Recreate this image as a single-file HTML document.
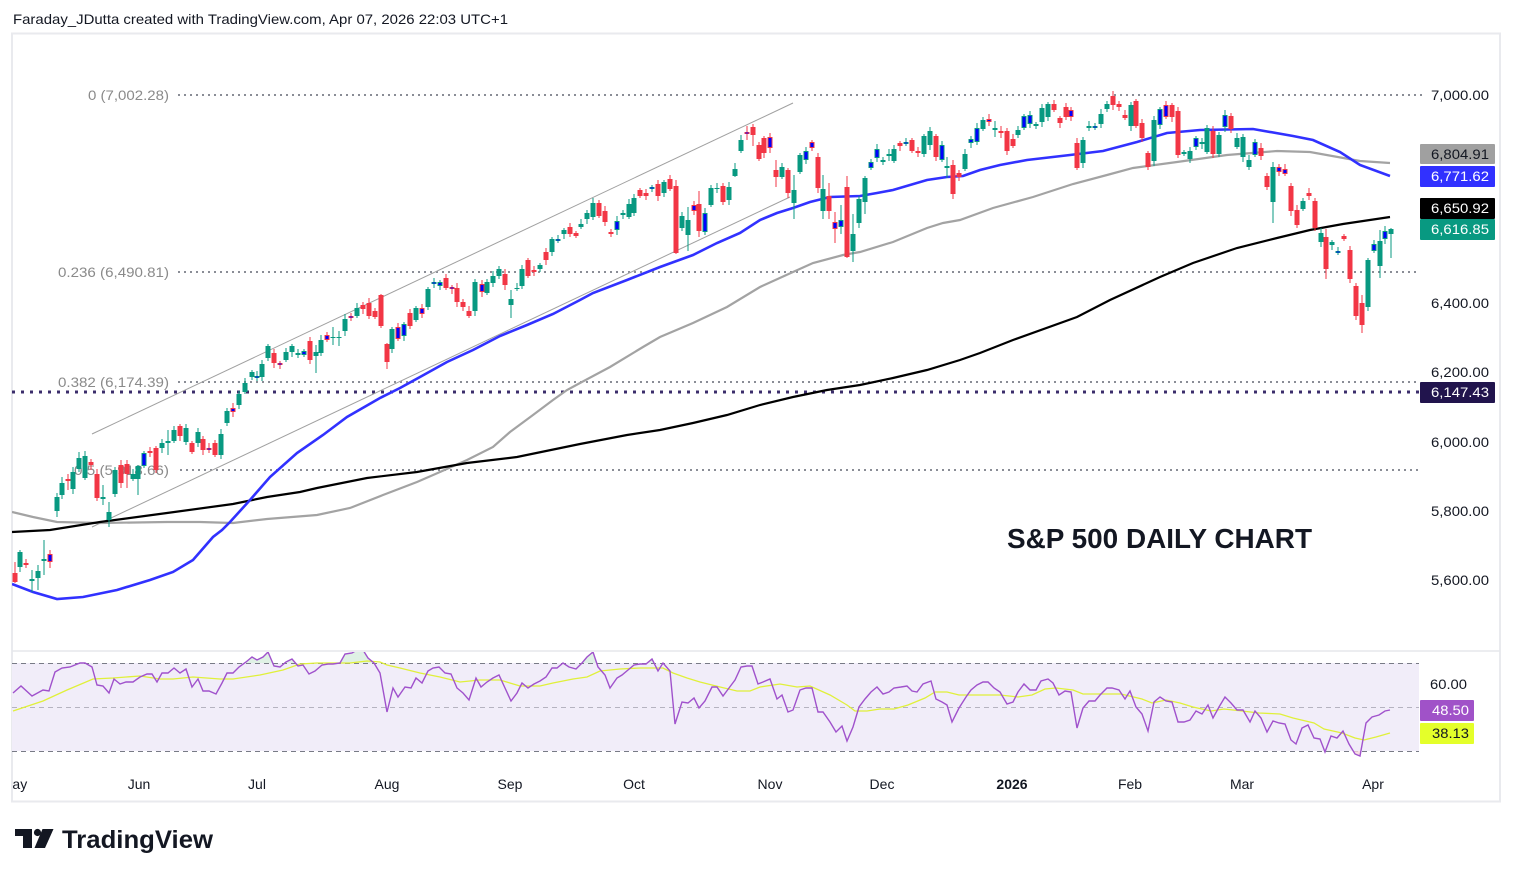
<!DOCTYPE html>
<html><head><meta charset="utf-8">
<style>
html,body{margin:0;padding:0;background:#fff;}
svg{display:block;}
text{font-family:"Liberation Sans",sans-serif;}
</style></head>
<body>
<svg id="s" xmlns="http://www.w3.org/2000/svg" width="1514" height="877" viewBox="0 0 1514 877">
<defs>
<clipPath id="pane"><rect x="12" y="33" width="1408" height="617"/></clipPath>
<clipPath id="rsip"><rect x="12" y="652" width="1408" height="110"/></clipPath>
<clipPath id="ob"><rect x="12" y="640" width="1408" height="23"/></clipPath>
<clipPath id="os"><rect x="12" y="751" width="1408" height="20"/></clipPath>
<clipPath id="tax"><rect x="12" y="765" width="1488" height="36"/></clipPath>
</defs>
<rect x="0" y="0" width="1514" height="877" fill="#fff"/>
<text x="13" y="24" font-size="14" fill="#131722" textLength="495" lengthAdjust="spacingAndGlyphs">Faraday_JDutta created with TradingView.com, Apr 07, 2026 22:03 UTC+1</text>
<!-- frame -->
<rect x="12" y="33.5" width="1488" height="768" fill="#fff" stroke="#e9eaee" stroke-width="2"/>
<line x1="12" y1="651" x2="1500" y2="651" stroke="#e6e7eb" stroke-width="1.5"/>

<!-- RSI pane -->
<g clip-path="url(#rsip)">
<rect x="12" y="663" width="1407" height="88" fill="#f1edf9"/>
<line x1="12" y1="663.5" x2="1419" y2="663.5" stroke="#787b86" stroke-dasharray="5,4" stroke-width="1"/>
<line x1="12" y1="707.5" x2="1419" y2="707.5" stroke="#b5b3c0" stroke-dasharray="5,4" stroke-width="1"/>
<line x1="12" y1="751.5" x2="1419" y2="751.5" stroke="#787b86" stroke-dasharray="5,4" stroke-width="1"/>
<g id="rsifill"></g>
<polyline id="yl" fill="none" stroke="#e0f03a" stroke-width="1.3" points="13,711 43,701 67,690 93,679 113,678 140,676 160,679 173,679 193,677 220,679 233,679 260,675 283,670 300,664 317,663 350,663 367,661 380,662 387,665 400,668 420,673 440,677 460,682 480,680 500,680 520,686 540,686 553,683 573,679 587,677 600,671 620,669 640,668 663,668 673,673 687,678 700,682 720,687 737,691 750,691 760,687 780,684 797,687 810,686 830,695 847,705 855,711 867,711 880,709 894,709 908,705 925,698 935,692 947,692 959,695 983,695 1000,695 1018,697 1032,695 1045,689 1056,688 1073,690 1083,694 1121,694 1142,699 1152,703 1166,700 1180,703 1193,707 1211,711 1224,709 1242,711 1259,713 1280,714 1293,718 1314,723 1324,729 1342,733 1355,738 1364,740 1376,737 1390,733"/>
<polyline id="rl" fill="none" stroke="#a052cc" stroke-width="1.4" points="13,693 21,686 32,696 43,690 49,691 55,672 62,668 70,667 80,663 85,663 92,667 97,685 103,686 109,693 114,679 120,684 126,682 133,682 140,677 147,674 152,674 157,682 162,673 168,673 174,668 180,673 186,669 192,687 198,679 203,691 209,691 216,694 222,683 227,673 233,673 239,667 246,662 252,657 257,660 263,657 268,652 274,666 280,667 286,662 292,659 298,666 303,665 309,674 315,671 322,665 328,664 333,664 340,663 345,654 352,653 357,650 363,650 368,658 374,663 380,673 387,712 393,688 398,697 405,687 411,688 416,678 422,683 428,671 433,668 439,667 445,673 451,674 457,688 463,693 469,700 476,678 481,687 487,682 493,678 499,675 505,688 511,701 517,693 522,683 528,688 534,684 540,681 546,677 552,668 557,668 563,663 569,667 576,669 582,663 587,657 593,652 598,667 605,675 610,688 617,678 622,675 628,670 634,665 640,664 646,664 652,659 658,671 663,663 670,671 675,724 682,702 688,703 694,698 699,708 705,701 712,687 717,687 723,696 729,688 735,680 741,667 747,666 752,666 758,684 763,682 770,679 777,699 782,695 788,712 793,710 800,690 806,688 812,688 818,712 823,712 830,722 836,732 842,726 847,741 853,727 859,707 865,699 871,692 877,687 883,694 889,692 894,688 901,687 907,686 912,691 917,692 923,684 931,681 936,699 942,702 947,705 952,722 959,708 966,697 971,690 977,685 983,682 988,682 994,688 1000,692 1007,704 1013,702 1018,692 1024,684 1030,690 1036,690 1041,681 1048,679 1053,683 1059,695 1065,691 1071,692 1077,728 1083,708 1089,701 1095,701 1100,695 1107,688 1112,688 1119,690 1125,699 1130,691 1136,707 1142,714 1148,731 1154,702 1160,697 1166,701 1172,702 1178,722 1184,722 1190,720 1196,711 1202,714 1208,705 1213,718 1219,707 1225,697 1231,703 1237,710 1243,710 1250,722 1255,711 1261,718 1267,732 1273,721 1279,723 1285,724 1291,740 1296,744 1302,728 1308,725 1314,738 1320,739 1325,752 1331,736 1337,738 1343,731 1349,744 1355,754 1360,756 1366,723 1372,717 1379,715 1385,711 1390,710"/>
</g>

<!-- price pane -->
<g clip-path="url(#pane)">
<!-- fib lines -->
<g stroke="#8a8d96" stroke-width="2" stroke-dasharray="2,4" fill="none">
<line x1="178" y1="95" x2="1420" y2="95"/>
<line x1="178" y1="272" x2="1420" y2="272"/>
<line x1="178" y1="382" x2="1420" y2="382"/>
<line x1="180" y1="470" x2="1420" y2="470"/>
</g>
<g font-size="14" fill="#8a8a8a" text-anchor="end">
<text x="169" y="100" textLength="81" lengthAdjust="spacingAndGlyphs">0 (7,002.28)</text>
<text x="169" y="277" textLength="111" lengthAdjust="spacingAndGlyphs">0.236 (6,490.81)</text>
<text x="169" y="387" textLength="111" lengthAdjust="spacingAndGlyphs">0.382 (6,174.39)</text>
<text x="169" y="475" textLength="95" lengthAdjust="spacingAndGlyphs">0.5 (5,918.66)</text>
</g>
<line x1="12" y1="392" x2="1420" y2="392" stroke="#3b2d6b" stroke-width="3" stroke-dasharray="3,6"/>
<!-- channel -->
<line x1="92" y1="434" x2="793" y2="103" stroke="#a0a0a0" stroke-width="1"/>
<line x1="92" y1="527" x2="790" y2="197" stroke="#a0a0a0" stroke-width="1"/>
<!-- MAs -->
<polyline fill="none" stroke="#a3a3a3" stroke-width="2.2" points="12,512 33,517 57,522 100,523 167,522 200,522 233,523 267,519 317,515 350,508 383,495 417,482 440,472 467,460 493,447 510,432 533,415 553,400 567,390 580,383 610,367 643,347 660,337 693,323 727,307 760,287 793,272 813,263 843,255 860,252 893,242 927,228 943,223 960,220 993,208 1033,197 1073,184 1107,175 1133,168 1177,162 1227,155 1277,151 1310,152 1360,161 1390,163"/>
<polyline fill="none" stroke="#000" stroke-width="2.2" points="12,532 50,530 100,522 167,513 233,504 267,497 300,492 317,488 367,478 417,472 467,463 517,457 580,444 627,435 660,430 693,423 727,415 760,405 793,397 827,390 860,385 893,378 927,370 960,360 980,353 1013,340 1077,317 1110,300 1160,277 1193,263 1237,248 1277,238 1310,230 1343,224 1390,217"/>
<polyline fill="none" stroke="#3131ff" stroke-width="2.6" points="12,584 33,592 57,599 83,597 117,590 150,580 173,572 193,560 213,537 222,530 230,522 250,500 270,477 297,453 323,435 347,417 380,398 400,388 420,377 447,362 473,350 500,336 527,325 553,314 580,300 593,293 627,280 660,267 693,255 717,243 740,233 760,220 777,213 793,208 810,202 830,197 860,196 877,193 893,190 927,180 947,177 963,176 980,170 1000,165 1027,160 1070,155 1103,151 1137,142 1167,133 1200,130 1253,129 1293,136 1313,140 1340,152 1360,165 1390,176"/>
<g id="candles"></g>
<text x="1312" y="548" font-size="28" font-weight="bold" fill="#131722" text-anchor="end" textLength="305" lengthAdjust="spacingAndGlyphs">S&amp;P 500 DAILY CHART</text>
</g>

<!-- price axis -->
<g font-size="14" fill="#131722" text-anchor="end">
<text x="1489" y="100" textLength="58" lengthAdjust="spacingAndGlyphs">7,000.00</text>
<text x="1489" y="308" textLength="58" lengthAdjust="spacingAndGlyphs">6,400.00</text>
<text x="1489" y="377" textLength="58" lengthAdjust="spacingAndGlyphs">6,200.00</text>
<text x="1489" y="447" textLength="58" lengthAdjust="spacingAndGlyphs">6,000.00</text>
<text x="1489" y="516" textLength="58" lengthAdjust="spacingAndGlyphs">5,800.00</text>
<text x="1489" y="585" textLength="58" lengthAdjust="spacingAndGlyphs">5,600.00</text>
</g>
<line x1="1420" y1="95" x2="1426" y2="95" stroke="#8a8d96" stroke-width="2" stroke-dasharray="2,4"/>
<g font-size="14" text-anchor="end">
<rect x="1420" y="144" width="75" height="20" rx="1" fill="#a0a0a0"/>
<text x="1489" y="159" fill="#131722" textLength="58" lengthAdjust="spacingAndGlyphs">6,804.91</text>
<rect x="1420" y="166" width="75" height="21" rx="1" fill="#3131ff"/>
<text x="1489" y="181" fill="#fff" textLength="58" lengthAdjust="spacingAndGlyphs">6,771.62</text>
<rect x="1420" y="198" width="75" height="21" rx="1" fill="#000"/>
<text x="1489" y="213" fill="#fff" textLength="58" lengthAdjust="spacingAndGlyphs">6,650.92</text>
<rect x="1420" y="219" width="75" height="21" rx="1" fill="#089981"/>
<text x="1489" y="234" fill="#fff" textLength="58" lengthAdjust="spacingAndGlyphs">6,616.85</text>
<rect x="1420" y="382" width="75" height="21" rx="1" fill="#21144d"/>
<text x="1489" y="397" fill="#fff" textLength="58" lengthAdjust="spacingAndGlyphs">6,147.43</text>
<text x="1467" y="689" fill="#131722" textLength="37" lengthAdjust="spacingAndGlyphs">60.00</text>
<rect x="1420" y="700" width="54" height="21" rx="1" fill="#a052c8"/>
<text x="1469" y="715" fill="#fff" textLength="37" lengthAdjust="spacingAndGlyphs">48.50</text>
<rect x="1420" y="723" width="54" height="21" rx="1" fill="#e4ff2a"/>
<text x="1469" y="738" fill="#131722" textLength="37" lengthAdjust="spacingAndGlyphs">38.13</text>
</g>

<!-- time axis -->
<g font-size="14" fill="#131722" text-anchor="middle" clip-path="url(#tax)">
<text x="14" y="789">May</text>
<text x="139" y="789">Jun</text>
<text x="257" y="789">Jul</text>
<text x="387" y="789">Aug</text>
<text x="510" y="789">Sep</text>
<text x="634" y="789">Oct</text>
<text x="770" y="789">Nov</text>
<text x="882" y="789">Dec</text>
<text x="1012" y="789" font-weight="bold">2026</text>
<text x="1130" y="789">Feb</text>
<text x="1242" y="789">Mar</text>
<text x="1373" y="789">Apr</text>
</g>

<!-- logo -->
<g fill="#131722">
<path d="M15,829 H32 V848 H23 V836 H15 Z"/>
<circle cx="37.5" cy="832.5" r="3.6"/>
<path d="M42.5,829 H53.5 L45,848 H34.5 Z"/>
<text x="62" y="848" font-size="25" font-weight="bold" textLength="151" lengthAdjust="spacingAndGlyphs">TradingView</text>
</g>
</svg>
<script>
(function(){
var NS='http://www.w3.org/2000/svg';
var data="15,573,582,r,562,583;20,552,567,g;26,563,565,r;32,579,581,g,570,592;38,571,578,g,565,590;44,559,561,g,540,575;50,554,562,R,550,568;57,497,511,g,493,517;62,483,495,g,477,499;68,479,481,r,474,490;73,472,489,g;79,458,469,g,452,472;85,456,478,g;91,462,465,r;97,474,498,r;103,497,499,g,485,505;109,512,520,g,502,527;115,470,494,g;121,465,483,r;127,464,474,r,460,488;133,474,479,g;138,466,479,g,465,495;144,453,466,G;150,451,453,r;156,448,470,r;162,443,448,g;168,441,443,g,430,455;174,430,441,g;180,426,436,r;186,428,442,g;192,443,452,r;198,432,443,g;203,439,450,r;209,448,450,R;215,443,455,r;221,434,455,g;227,411,423,g;233,408,412,R;239,394,405,g;245,383,392,g;252,372,377,g;257,376,378,G;262,364,377,g;268,346,358,g;274,353,363,r;280,363,365,R;286,352,360,g;292,346,352,g;298,353,355,g;304,351,355,G;310,341,360,r;316,352,356,g,345,373;321,340,353,g;327,335,340,R;333,337,338,g,327,345;339,337,338,g,331,346;345,319,331,g;351,316,317,R;357,308,316,g;363,305,309,r;369,303,316,r;375,311,317,r;381,295,326,r,294,328;387,344,362,r,343,369;392,329,349,g;398,327,339,R;404,324,336,G;410,313,326,r;416,308,320,g;422,308,314,R;428,289,307,g;434,282,283,G;440,282,286,G;446,278,288,r;452,287,289,R;457,288,302,r;463,302,307,r;469,311,316,r;475,282,311,g;482,284,292,R;487,282,293,g;493,276,283,g;499,269,276,g;505,274,285,r;511,299,305,g,290,318;517,288,289,g;522,269,286,g;528,260,276,r;534,270,272,r;540,265,269,g;546,252,260,r;552,239,252,g;558,239,241,G;564,230,234,g;570,227,234,r;576,233,236,r;581,224,227,g;587,213,219,g;593,203,217,g;599,203,216,r;605,211,222,r;611,232,234,r;617,221,230,G;623,213,215,g;629,204,217,g;634,198,213,g;640,190,196,r;646,193,196,r;652,187,189,G;658,184,196,r;664,182,193,g;670,179,189,r;676,186,253,r,180,254;682,216,228,g;688,220,235,g,207,251;694,205,211,R;699,204,231,r,191,237;705,213,232,G;711,188,205,g;717,188,189,g;723,186,202,r;729,187,200,g;735,169,176,g,163,177;741,140,151,g;747,132,134,R,126,140;753,127,135,r,124,146;759,145,159,r;764,138,153,r,136,158;770,137,148,R;776,170,177,r,160,187;782,167,177,g;788,170,193,r;794,190,203,g,175,219;800,155,172,g;806,151,160,G;812,142,148,R;818,157,188,r;823,189,211,g,175,219;829,196,211,r,183,219;835,222,229,R,212,243;841,220,227,G,205,234;847,187,257,r,176,258;853,234,251,g,214,262;859,199,223,g;865,178,202,g,176,214;871,162,168,G;877,149,158,G;883,160,162,g;889,154,156,g;894,149,161,g;900,143,146,r;906,142,143,G;912,140,151,r;918,151,153,r;924,136,154,g;930,131,145,g;936,136,157,r;942,145,160,G;947,166,168,g,157,178;953,165,194,r;959,173,177,r;965,154,169,g;971,139,143,G;977,128,142,G;983,120,129,g;989,119,122,R;995,128,130,g,121,137;1001,131,133,r;1007,131,151,r;1013,139,146,r;1018,130,135,g;1024,116,128,G;1030,115,124,G;1036,124,126,g;1042,108,122,g;1048,104,117,g;1054,104,110,r;1060,118,123,r;1066,107,117,r;1071,110,117,R;1077,143,168,r;1083,140,163,g;1089,126,128,g;1095,126,128,G;1101,114,124,g;1107,104,109,g;1113,96,105,r;1119,104,107,r;1125,115,118,r;1131,105,126,g;1136,101,126,r;1142,123,138,r;1148,153,167,r;1154,120,161,g;1160,109,125,G;1166,105,117,R;1172,105,117,r;1178,111,155,r;1184,152,154,g;1190,151,159,g;1196,138,147,G;1202,142,144,g;1207,128,152,g;1213,131,154,r;1219,135,154,g;1225,115,127,G;1231,116,129,r;1237,138,147,g;1243,137,157,g;1249,160,167,g;1255,142,155,G;1261,148,156,r;1267,176,187,r;1273,167,202,g,162,223;1279,167,172,R;1285,169,174,R;1291,186,211,r;1297,210,225,r;1303,201,209,g;1309,193,196,r;1315,201,228,r;1321,233,242,g;1326,237,269,r,229,279;1332,242,245,g;1338,251,252,G;1344,236,239,r;1350,250,279,r;1356,286,316,r,283,320;1362,303,325,r,295,333;1368,260,307,g;1374,244,251,G;1380,241,266,g,230,278;1385,231,239,G;1391,229,234,g,228,258";
var g=document.getElementById('candles');
function el(n,a){var e=document.createElementNS(NS,n);for(var k in a)e.setAttribute(k,a[k]);return e;}
data.split(';').forEach(function(s){
 var p=s.split(',');var x=+p[0],t=+p[1],b=+p[2],c=p[3];
 var h=(x*7)%16;
 var wt=p[4]?+p[4]:t-(2+h%4);
 var wb=p[5]?+p[5]:b+(2+((h>>2)%4));
 var col=(c==='g'||c==='G')?'#089981':'#f23645';
 if(b-t<1)b=t+1;
 g.appendChild(el('line',{x1:x,y1:wt,x2:x,y2:wb,stroke:col,'stroke-width':1}));
 if(c==='G'||c==='R'){
  g.appendChild(el('rect',{x:x-2.5,y:t,width:5,height:Math.max(b-t,2),fill:col}));
  if(b-t>2)g.appendChild(el('rect',{x:x-1.5,y:t+1,width:3,height:b-t-2,fill:'#0000ff'}));
  else g.appendChild(el('rect',{x:x-1.5,y:t+0.5,width:3,height:1,fill:'#0000ff'}));
 } else {
  g.appendChild(el('rect',{x:x-2.5,y:t,width:5,height:b-t,fill:col}));
 }
});
var pts=document.getElementById('rl').getAttribute('points').trim();
var first=pts.split(' ')[0].split(','),last=pts.split(' ').slice(-1)[0].split(',');
var f=document.getElementById('rsifill');
f.appendChild(el('polygon',{points:first[0]+',663 '+pts+' '+last[0]+',663',fill:'#d7eedf',opacity:'0.8','clip-path':'url(#ob)'}));
f.appendChild(el('polygon',{points:first[0]+',751 '+pts+' '+last[0]+',751',fill:'#f6d6dc',opacity:'0.8','clip-path':'url(#os)'}));
})();
</script>
</body></html>
